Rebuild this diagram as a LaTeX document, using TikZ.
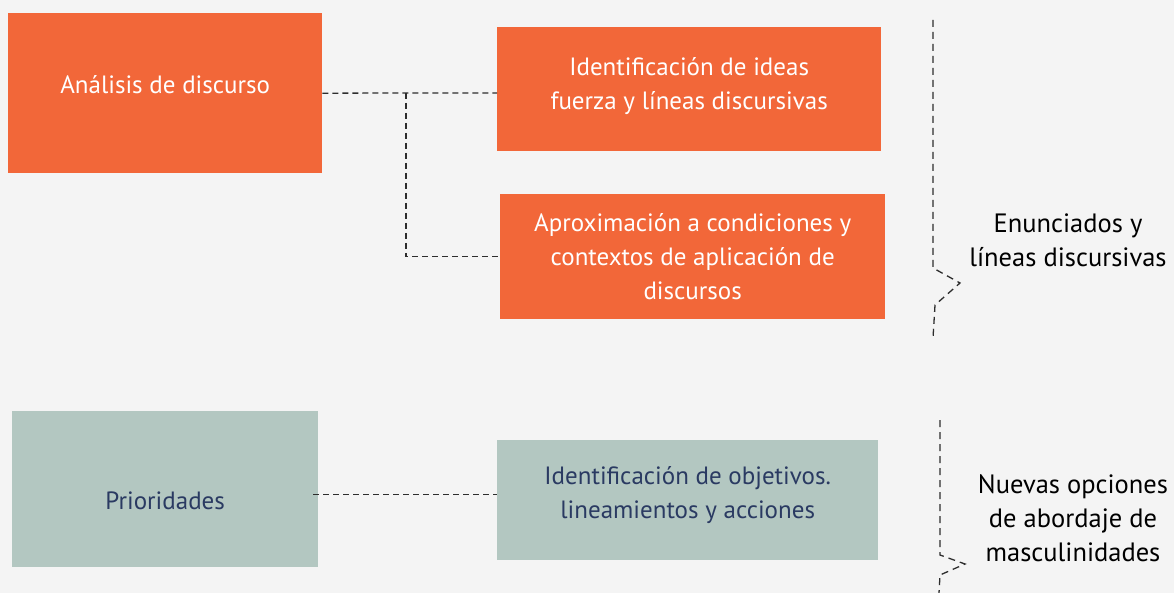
\documentclass[tikz,border=0pt]{standalone}
\usepackage{fontspec}
\setmainfont{PT Sans}
\usepackage{xcolor}
\usetikzlibrary{positioning}
\definecolor{orangefill}{RGB}{242,103,57}
\definecolor{sagefill}{RGB}{179,199,193}
\definecolor{navytext}{RGB}{42,58,98}
\definecolor{bggray}{RGB}{244,244,244}
\definecolor{darkline}{RGB}{45,45,45}

\begin{document}
\begin{tikzpicture}[x=1pt, y=-1pt]
    \tikzstyle{orangebox} = [rectangle, anchor=north west, fill=orangefill, text=white, align=center, inner sep=0pt, font=\fontsize{25}{34}\selectfont]
    \tikzstyle{sagebox} = [rectangle, anchor=north west, fill=sagefill, text=navytext, align=center, inner sep=0pt, font=\fontsize{25}{34}\selectfont]
    \tikzstyle{result} = [align=center, text=black, font=\fontsize{26.5}{34}\selectfont]
    \tikzstyle{link} = [draw=darkline, line width=1.3pt, dash pattern=on 6pt off 4pt]
    \tikzstyle{brace} = [draw=darkline, line width=1.3pt, dash pattern=on 7pt off 5pt]

    % Background
    \fill [bggray] (0,0) rectangle (1174,593);
    \useasboundingbox (0,0) rectangle (1174,593);

    % Discourse analysis
    \node [orangebox, minimum width=314pt, minimum height=160pt] (analisis) at (8,13) {Análisis de discurso\rule[-18pt]{0pt}{18pt}};
    \node [orangebox, minimum width=384pt, minimum height=124pt] (ideas) at (497,27) {Identificación de ideas\\fuerza y líneas discursivas\\[-22pt]};
    \node [orangebox, minimum width=385pt, minimum height=125pt] (aprox) at (500,194) {Aproximación a condiciones y\\contextos de aplicación de\\discursos};

    % Priorities
    \node [sagebox, minimum width=306pt, minimum height=156pt] (prioridades) at (12,411) {\rule{0pt}{41pt}Prioridades};
    \node [sagebox, minimum width=381pt, minimum height=120pt] (objetivos) at (497,440) {Identificación de objetivos.\\lineamientos y acciones\\[-18pt]};

    % Outcomes
    \node [result] (enunciados) at (1068,240) {Enunciados y\\líneas discursivas};
    \node [result] (nuevas) at (1073,518) {Nuevas opciones\\de abordaje de\\masculinidades};

    % Connectors
    \coordinate (split) at (406,93);
    \draw [link] (analisis.east) -- (split) -- (split -| ideas.west);
    \draw [link] (split) -- (split |- aprox.west) -- (aprox.west);
    \draw [link] ([xshift=-5pt, yshift=-5pt]prioridades.east) -- ([yshift=-5pt]prioridades.east -| objetivos.west);

    % Braces
    \coordinate (topA) at (933,20);
    \coordinate (tipA) at (960,283);
    \coordinate (botA) at (933,338);
    \draw [brace] (topA) -- (933,268) -- (tipA) -- (935,305) -- (botA);
    \coordinate (topB) at (940,420);
    \coordinate (tipB) at (965,564);
    \coordinate (botB) at (939,593);
    \draw [brace] (topB) -- (940,555) -- (tipB) -- (940,575) -- (botB);
\end{tikzpicture}
\end{document}
